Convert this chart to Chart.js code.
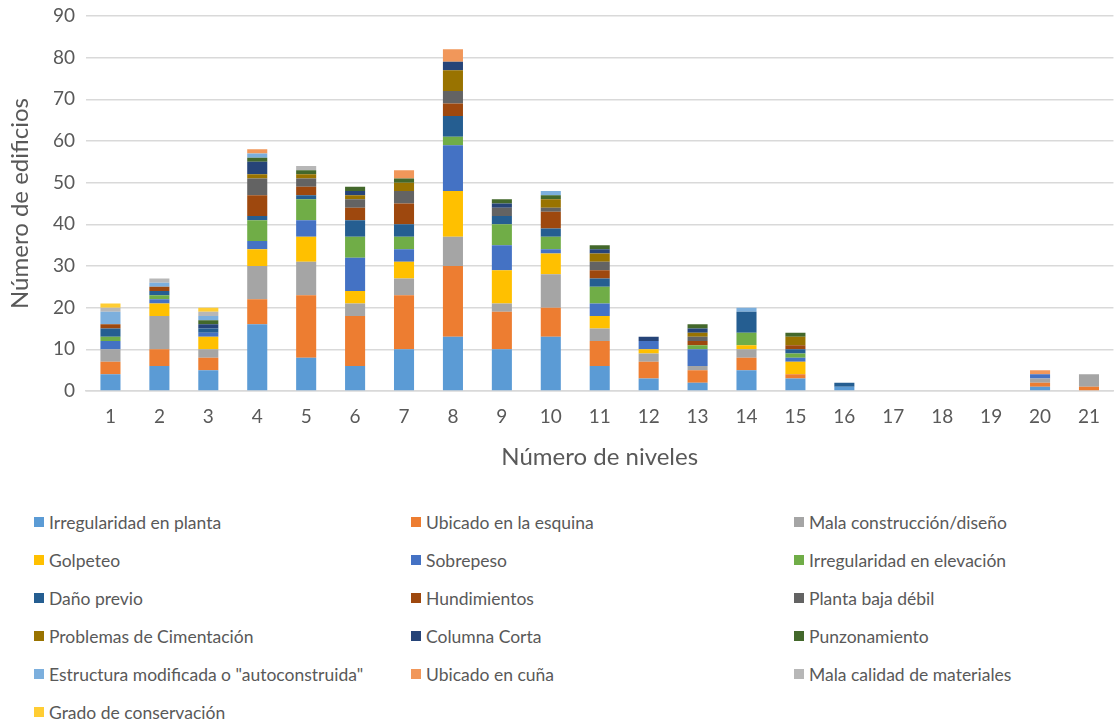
<!DOCTYPE html>
<html lang="es">
<head>
    <meta charset="UTF-8">
    <title>Número de edificios por número de niveles</title>
    <script src="https://cdn.jsdelivr.net/npm/chart.js"></script>
    <style>
        body { margin: 0; background: #fff; font-family: Lato, sans-serif; }
        #wrap { position: relative; width: 1114px; height: 480px; }
        #legend {
            position: absolute; left: 34px; top: 503px;
            display: grid; grid-template-columns: 377px 383px 300px;
            color: #595959; font-size: 17.5px;
        }
        #legend div { height: 38px; display: flex; align-items: center; white-space: nowrap; }
        #legend span.box { width: 10px; height: 10px; margin-right: 5px; display: inline-block; flex: none; }
    </style>
</head>
<body>
    <div id="wrap"><canvas id="grafico"></canvas></div>
    <div id="legend"></div>

    <script>
        const niveles = ['1','2','3','4','5','6','7','8','9','10','11','12','13','14','15','16','17','18','19','20','21'];

        const irregPlanta   = [4,6,5,16,8,6,10,13,10,13,6,3,2,5,3,1,0,0,0,1,0];
        const esquina       = [3,4,3,6,15,12,13,17,9,7,6,4,3,3,1,0,0,0,0,1,1];
        const malaConst     = [3,8,2,8,8,3,4,7,2,8,3,2,1,2,0,0,0,0,0,1,3];
        const golpeteo      = [0,3,3,4,6,3,4,11,8,5,3,1,0,1,3,0,0,0,0,0,0];
        const sobrepeso     = [2,1,1,2,4,8,3,11,6,1,3,2,4,0,1,0,0,0,0,1,0];
        const irregElev     = [1,1,0,5,5,5,3,2,5,3,4,0,1,3,1,0,0,0,0,0,0];
        const danoPrevio    = [2,1,1,1,1,4,3,5,2,2,2,0,0,5,1,1,0,0,0,0,0];
        const hundimientos  = [1,1,0,5,2,3,5,3,0,4,2,0,1,0,1,0,0,0,0,0,0];
        const plantaBaja    = [0,0,0,4,2,2,3,3,2,1,2,0,1,0,0,0,0,0,0,0,0];
        const cimentacion   = [0,0,0,1,1,1,2,5,0,2,2,0,1,0,2,0,0,0,0,0,0];
        const columnaCorta  = [0,0,1,3,0,1,0,2,1,0,1,1,1,0,0,0,0,0,0,0,0];
        const punzonamiento = [0,0,1,1,1,1,1,0,1,1,1,0,1,0,1,0,0,0,0,0,0];
        const autoconst     = [3,1,1,1,0,0,0,0,0,1,0,0,0,1,0,0,0,0,0,0,0];
        const cuna          = [0,0,0,1,0,0,2,3,0,0,0,0,0,0,0,0,0,0,0,1,0];
        const malaCalidad   = [1,1,1,0,1,0,0,0,0,0,0,0,0,0,0,0,0,0,0,0,0];
        const conservacion  = [1,0,1,0,0,0,0,0,0,0,0,0,0,0,0,0,0,0,0,0,0];

        const series = [
            ['Irregularidad en planta', irregPlanta, '#5B9BD5'],
            ['Ubicado en la esquina', esquina, '#ED7D31'],
            ['Mala construcción/diseño', malaConst, '#A5A5A5'],
            ['Golpeteo', golpeteo, '#FFC000'],
            ['Sobrepeso', sobrepeso, '#4472C4'],
            ['Irregularidad en elevación', irregElev, '#70AD47'],
            ['Daño previo', danoPrevio, '#255E91'],
            ['Hundimientos', hundimientos, '#9E480E'],
            ['Planta baja débil', plantaBaja, '#636363'],
            ['Problemas de Cimentación', cimentacion, '#997300'],
            ['Columna Corta', columnaCorta, '#264478'],
            ['Punzonamiento', punzonamiento, '#43682B'],
            ['Estructura modificada o "autoconstruida"', autoconst, '#7CAFDD'],
            ['Ubicado en cuña', cuna, '#F1975A'],
            ['Mala calidad de materiales', malaCalidad, '#B7B7B7'],
            ['Grado de conservación', conservacion, '#FFCD33']
        ];

        const gris = '#595959';

        const ctx = document.getElementById('grafico').getContext('2d');
        const chart = new Chart(ctx, {
            type: 'bar',
            data: {
                labels: niveles,
                datasets: series.map(s => ({
                    label: s[0], data: s[1], backgroundColor: s[2],
                    borderWidth: 0, categoryPercentage: 1, barPercentage: 0.41
                }))
            },
            options: {
                responsive: true,
                maintainAspectRatio: false,
                animation: false,
                layout: { padding: { top: 16, left: 2, right: 0, bottom: 0 } },
                plugins: { legend: { display: false }, tooltip: { enabled: false } },
                scales: {
                    x: {
                        stacked: true,
                        grid: { display: false, drawTicks: false },
                        border: { color: '#D9D9D9', width: 1.5 },
                        ticks: { color: gris, padding: 14, font: { family: 'Lato', size: 19 } },
                        title: { display: true, text: 'Número de niveles', color: gris,
                                 font: { family: 'Lato', size: 24 }, padding: { top: 4, bottom: 8 } },
                        afterFit: s => { s.height = 89; }
                    },
                    y: {
                        stacked: true, min: 0, max: 90,
                        grid: { color: '#D9D9D9', lineWidth: 1.5, drawTicks: false },
                        border: { display: false },
                        ticks: { stepSize: 10, color: gris, padding: 11, font: { family: 'Lato', size: 19 } },
                        title: { display: true, text: 'Número de edificios', color: gris,
                                 font: { family: 'Lato', size: 24 }, padding: { top: 4, bottom: 4 } },
                        afterFit: s => { s.width = 84; s.paddingTop = 0; s.paddingBottom = 0; }
                    }
                }
            }
        });

        document.getElementById('legend').innerHTML = chart.data.datasets.map(d =>
            `<div><span class="box" style="background:${d.backgroundColor}"></span>${d.label.replace(/"/g, '&quot;')}</div>`).join('');
    </script>
</body>
</html>
